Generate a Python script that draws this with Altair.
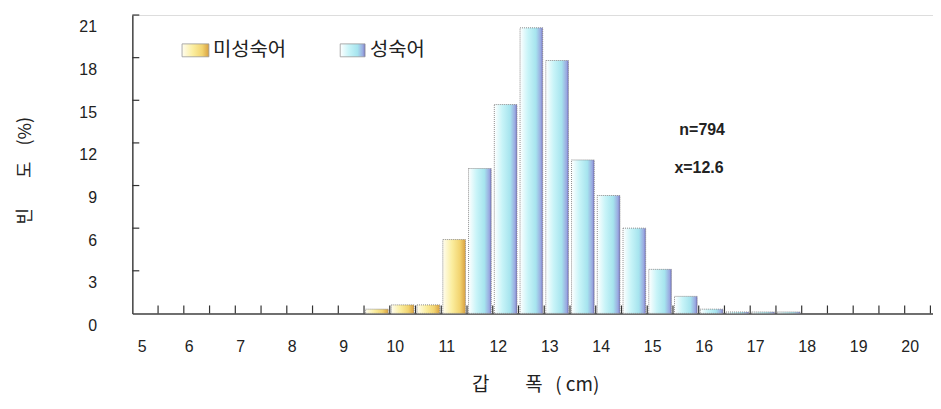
import altair as alt
import pandas as pd

# ---- data (carapace width bins, cm; frequency %) ----
immature_start = [9.5, 10.0, 10.5, 11.0]
immature_freq = [0.3, 0.6, 0.6, 5.2]
mature_start = [11.5, 12.0, 12.5, 13.0, 13.5, 14.0, 14.5, 15.0, 15.5, 16.0, 16.5, 17.0, 17.5]
mature_freq = [10.2, 14.7, 20.1, 17.8, 10.8, 8.3, 6.0, 3.1, 1.2, 0.3, 0.1, 0.1, 0.1]
bin_width = 0.5

x_labels = [5, 6, 7, 8, 9, 10, 11, 12, 13, 14, 15, 16, 17, 18, 19, 20]
x_minor_ticks = [5.5, 6.0, 6.5, 7.0, 7.5, 8.0, 8.5, 9.0, 9.5, 10.0, 10.5, 11.0, 11.5, 12.0,
                 12.5, 13.0, 13.5, 14.0, 14.5, 15.0, 15.5, 16.0, 16.5, 17.0, 17.5, 18.0,
                 18.5, 19.0, 19.5, 20.0, 20.5]
y_labels = [0, 3, 6, 9, 12, 15, 18, 21]
legend_names = ["미성숙어", "성숙어"]
n_text = "n=794"
mean_text = "x=12.6"

W, H = 805, 300
gap = 0.03

imm = pd.DataFrame({"x0": [s + gap for s in immature_start],
                    "x1": [s + bin_width - gap for s in immature_start],
                    "v": immature_freq})
mat = pd.DataFrame({"x0": [s + gap for s in mature_start],
                    "x1": [s + bin_width - gap for s in mature_start],
                    "v": mature_freq})

xscale = alt.Scale(domain=[5, 20.55], nice=False, zero=False)
yscale = alt.Scale(domain=[0, 21], nice=False)

yellow = alt.LinearGradient(
    gradient="linear", x1=0, x2=1, y1=0, y2=0,
    stops=[alt.GradientStop(color="#fffdf0", offset=0),
           alt.GradientStop(color="#fbeea0", offset=0.4),
           alt.GradientStop(color="#f2d470", offset=0.75),
           alt.GradientStop(color="#d8a040", offset=1)])
blue = alt.LinearGradient(
    gradient="linear", x1=0, x2=1, y1=0, y2=0,
    stops=[alt.GradientStop(color="#ffffff", offset=0),
           alt.GradientStop(color="#c8f4f8", offset=0.35),
           alt.GradientStop(color="#a6e4ee", offset=0.7),
           alt.GradientStop(color="#9aa8e0", offset=0.92),
           alt.GradientStop(color="#7070c0", offset=1)])

bar_style = dict(stroke="#8a8a8a", strokeWidth=1, strokeDash=[1, 1])

x_axis = alt.Axis(values=x_labels, ticks=False, tickSize=0, grid=False,
                  labelPadding=25, labelOffset=5, labelFont="Liberation Sans",
                  labelFontSize=16, labelColor="#222", domainColor="#444",
                  domainWidth=1.5,
                  title="갑\u3000\u00a0\u00a0\u00a0\u00a0폭\u00a0\u00a0\u00a0(\u00a0cm)",
                  titleFont="Noto Sans CJK KR", titleFontSize=19, titleFontWeight="normal",
                  titleColor="#222", titleBaseline="middle", titleY=71, titleX=405)
y_axis = alt.Axis(values=y_labels, ticks=False, tickSize=0, grid=False,
                  labelPadding=36, labelOffset=12, labelFont="Liberation Sans",
                  labelFontSize=16, labelColor="#222", domainColor="#444",
                  domainWidth=1.5,
                  title="빈\u3000\u00a0\u00a0\u00a0도\u00a0\u00a0\u00a0\u00a0(%)",
                  titleFont="Noto Sans CJK KR", titleFontSize=18, titleFontWeight="normal",
                  titleColor="#222", titleBaseline="middle", titleX=-107, titleY=156,
                  titleAngle=270)

imm_bars = alt.Chart(imm).mark_bar(fill=yellow, **bar_style).encode(
    x=alt.X("x0:Q", scale=xscale, axis=x_axis),
    x2="x1:Q",
    y=alt.Y("v:Q", scale=yscale, axis=y_axis),
    y2=alt.datum(0),
)
mat_bars = alt.Chart(mat).mark_bar(fill=blue, **bar_style).encode(
    x=alt.X("x0:Q", scale=xscale),
    x2="x1:Q",
    y=alt.Y("v:Q", scale=yscale),
    y2=alt.datum(0),
)

xt = alt.Chart(pd.DataFrame({"t": x_minor_ticks})).mark_rule(color="#333", strokeWidth=1.2).encode(
    x=alt.X("t:Q", scale=xscale), y=alt.value(H), y2=alt.value(H - 8))
yt = alt.Chart(pd.DataFrame({"t": y_labels[1:]})).mark_rule(color="#333", strokeWidth=1.2).encode(
    y=alt.Y("t:Q", scale=yscale), x=alt.value(0), x2=alt.value(7))

one = pd.DataFrame({"a": [0]})
leg1 = alt.Chart(one).mark_rect(fill=yellow, stroke="#999", strokeWidth=0.8).encode(
    x=alt.value(50), x2=alt.value(77), y=alt.value(29), y2=alt.value(42))
leg2 = alt.Chart(one).mark_rect(fill=blue, stroke="#999", strokeWidth=0.8).encode(
    x=alt.value(209), x2=alt.value(234), y=alt.value(29), y2=alt.value(42))
txt_style = dict(font="Noto Sans CJK KR", fontSize=20, align="left", baseline="middle", color="#222")
legt1 = alt.Chart(one).mark_text(text=legend_names[0], **txt_style).encode(
    x=alt.value(81), y=alt.value(35))
legt2 = alt.Chart(one).mark_text(text=legend_names[1], **txt_style).encode(
    x=alt.value(239), y=alt.value(35))

ann_style = dict(font="Liberation Sans", fontSize=16, fontWeight="bold", align="left",
                 baseline="middle", color="#222")
ann1 = alt.Chart(one).mark_text(text=n_text, **ann_style).encode(x=alt.value(550), y=alt.value(116))
ann2 = alt.Chart(one).mark_text(text=mean_text, **ann_style).encode(x=alt.value(545), y=alt.value(154))

chart = alt.layer(imm_bars, mat_bars, xt, yt, leg1, leg2, legt1, legt2, ann1, ann2).properties(
    width=W, height=H,
    autosize=alt.AutoSizeParams(type="none"),
    padding={"left": 125, "top": 6, "right": 0, "bottom": 90},
).configure_view(stroke=None).configure(background="white")

chart.save("out.html", embed_options={"renderer": "svg", "actions": False})
